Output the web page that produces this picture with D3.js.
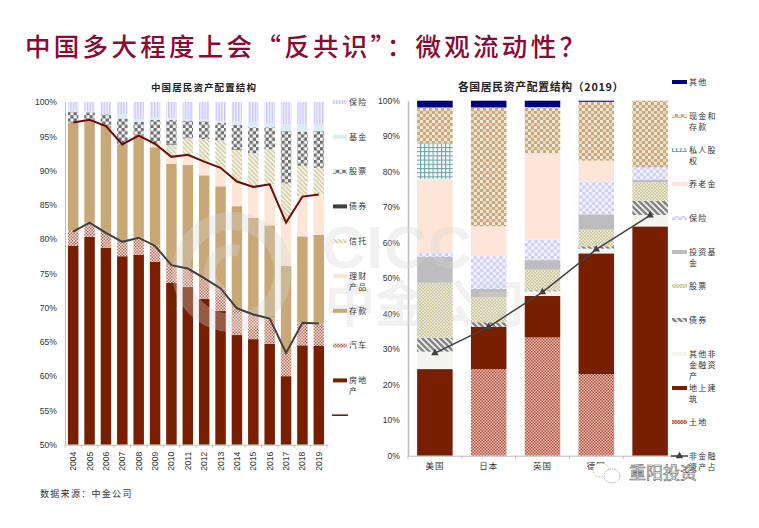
<!DOCTYPE html>
<html>
<head>
<meta charset="utf-8">
<script src="https://cdn.jsdelivr.net/npm/d3@7"></script>
<style>
	html, body { margin: 0; padding: 0; background: #fff; }
	svg { display: block; }
	text { font-family: "Noto Sans CJK SC", "Liberation Sans", sans-serif; }
	.tick text { font-family: "Liberation Sans", Arial, sans-serif; fill: #333; }
	.cat .tick text { font-family: "Noto Sans CJK SC", sans-serif; }
</style>
</head>
<body>
<svg id="chart" width="759" height="528"></svg>
<script>
	/* left chart - share of household assets, China */
	var years = ["2004","2005","2006","2007","2008","2009","2010","2011","2012","2013","2014","2015","2016","2017","2018","2019"];
	var cnRealEstate = [79.0,80.3,78.7,77.5,77.7,76.7,73.6,73.0,71.3,69.5,66.0,65.4,64.7,60.0,64.5,64.4];
	var cnCar = [2.2,2.1,2.2,2.1,2.5,2.4,2.6,2.8,2.9,3.3,3.9,3.6,3.7,3.4,3.3,3.3];
	var cnDeposit = [15.8,15.0,15.6,14.2,14.9,14.3,14.8,15.0,15.1,14.9,14.9,14.1,13.6,12.7,12.6,12.9];
	var cnWealth = [0,0,0,0,0,0.2,1.0,1.5,2.0,2.7,3.6,4.5,6.0,6.3,5.8,5.9];
	var cnTrust = [0,0,0,0,0,0.3,1.8,2.4,3.3,4.0,4.6,4.9,5.1,5.7,4.5,3.9];
	var cnBond = [0,0,0,0,0,0,0.1,0,0,0,0.1,0,0,0,0,0];
	var cnStock = [1.6,1.1,1.7,3.8,2.0,3.5,3.5,2.6,2.6,2.6,3.6,3.8,3.2,7.7,5.0,5.4];
	var cnFund = [0.1,0.1,0,0.6,0.4,0.3,0.2,0.2,0.2,0.2,0.5,0.7,0.6,0.9,1.0,0.9];
	var cnInsurance = [1.3,1.4,1.8,1.8,2.5,2.3,2.4,2.5,2.6,2.8,2.8,3.0,3.1,3.3,3.3,3.3];
	var cnLineGrey = [81.1,82.4,80.9,79.6,80.2,79.0,76.2,75.7,74.3,72.8,69.9,69.0,68.4,63.4,67.8,67.7];
	var cnLineRed = [97.0,97.4,96.5,93.8,95.1,93.9,92.0,92.3,91.3,90.4,88.4,87.6,88.0,82.4,86.2,86.5];
	var cnTicks = [50,55,60,65,70,75,80,85,90,95,100];

	/* right chart - share of household assets by country, 2019 */
	var countries = ["美国","日本","英国","德国","法国"];
	var wLand = [0,24.4,33.3,23.0,0];
	var wBuilding = [24.4,11.9,11.7,34.0,64.6];
	var wOtherNonFin = [4.9,0,1.3,1.3,3.2];
	var wBond = [3.9,1.3,0.3,0.7,4.0];
	var wStock = [15.5,7.0,5.8,4.7,5.2];
	var wFund = [7.3,2.4,2.7,4.3,0.8];
	var wInsurance = [1.3,9.2,5.7,9.2,3.4];
	var wPension = [20.7,8.4,24.4,5.9,0];
	var wPrivateEquity = [10.0,0,0,0,0];
	var wCash = [10.1,33.5,13.0,16.6,18.8];
	var wOther = [1.9,1.9,1.8,0.3,0];
	var wNonFinShare = [28.9,36.3,46.1,58.1,67.7];
	var wTicks = [0,10,20,30,40,50,60,70,80,90,100];

	/* bottom-up stacking order, the legends read top-down */
	var cnSeries = [
		{name: "房地产", values: cnRealEstate, fill: "#771f00"},
		{name: "汽车", values: cnCar, fill: "url(#pCar)"},
		{name: "存款", values: cnDeposit, fill: "#c9a877"},
		{name: "理财产品", values: cnWealth, fill: "#fde6d8"},
		{name: "信托", values: cnTrust, fill: "url(#pTrust)"},
		{name: "债券", values: cnBond, fill: "#404040"},
		{name: "股票", values: cnStock, fill: "url(#pChecker)"},
		{name: "基金", values: cnFund, fill: "#d9edf3"},
		{name: "保险", values: cnInsurance, fill: "url(#pStripes)"}
	];
	var wSeries = [
		{name: "土地", values: wLand, fill: "url(#pLand)"},
		{name: "地上建筑", values: wBuilding, fill: "#771f00"},
		{name: "其他非金融资产", values: wOtherNonFin, fill: "#f4f5ee"},
		{name: "债券", values: wBond, fill: "url(#pBond)"},
		{name: "股票", values: wStock, fill: "url(#pDots)"},
		{name: "投资基金", values: wFund, fill: "#bdbdbd"},
		{name: "保险", values: wInsurance, fill: "url(#pLavender)"},
		{name: "养老金", values: wPension, fill: "#fde6d8"},
		{name: "私人股权", values: wPrivateEquity, fill: "url(#pGrid)"},
		{name: "现金和存款", values: wCash, fill: "url(#pCash)"},
		{name: "其他", values: wOther, fill: "#000080"}
	];

	var svg = d3.select("#chart");

	/*
	 * Fill patterns. Each one is a background rect plus a list of small rects
	 * or a diagonal line.
	 */
	var defs = svg.append("defs");

	function addPattern(id, size, bg, rects, diagonal) {
		var p = defs.append("pattern")
			.attr("id", id)
			.attr("patternUnits", "userSpaceOnUse")
			.attr("width", size)
			.attr("height", size);
		p.append("rect").attr("width", size).attr("height", size).attr("fill", bg);
		(rects || []).forEach(function(r) {
			p.append("rect").attr("x", r[0]).attr("y", r[1]).attr("width", r[2]).attr("height", r[3]).attr("fill", r[4]);
		});
		if (diagonal) {
			p.append("path")
				.attr("d", "M0,0L" + size + "," + size + "M" + (-size) + ",0L" + size + "," + (2 * size) + "M0," + (-size) + "L" + (2 * size) + "," + size)
				.attr("stroke", diagonal[0])
				.attr("stroke-width", diagonal[1]);
		}
	}

	addPattern("pStripes", 2.8, "#f4f4ff", [[0, 0, 1.4, 2.8, "#c6c6fb"]]);
	addPattern("pChecker", 6.4, "#f2f2f2", [[0, 0, 3.2, 3.2, "#6e6e6e"], [3.2, 3.2, 3.2, 3.2, "#6e6e6e"]]);
	addPattern("pTrust", 4.5, "#fbfaf4", [], ["#d3cba3", 1.7]);
	addPattern("pCar", 3, "#f6e4dc", [[0, 0, 1.5, 1.5, "#bf6b5a"], [1.5, 1.5, 1.5, 1.5, "#bf6b5a"]]);
	addPattern("pLand", 3, "#e8c6ba", [[0, 0, 1.5, 1.5, "#b84a3a"], [1.5, 1.5, 1.5, 1.5, "#b84a3a"]]);
	addPattern("pDots", 3.2, "#efedda", [[0, 0, 1.6, 1.6, "#c8c497"], [1.6, 1.6, 1.6, 1.6, "#c8c497"]]);
	addPattern("pBond", 6, "#f2f2f2", [], ["#858585", 2.6]);
	addPattern("pLavender", 6.4, "#f5f5ff", [[0, 0, 3.2, 3.2, "#cdcdfa"], [3.2, 3.2, 3.2, 3.2, "#cdcdfa"]]);
	addPattern("pGrid", 4.2, "#f6fbfb", [[0, 0, 1, 4.2, "#6a9fa6"], [0, 0, 4.2, 1, "#6a9fa6"]]);
	addPattern("pCash", 6, "#cba97a", [[0, 0, 3, 3, "#f2e8d6"], [3, 3, 3, 3, "#ead9bf"]]);

	/* titles */
	svg.append("text")
		.attr("x", 25).attr("y", 56)
		.attr("fill", "#8a0a32")
		.attr("font-size", 25.5)
		.attr("letter-spacing", 3.3)
		.style("font-weight", 500)
		.text("中国多大程度上会“反共识”：微观流动性？");

	svg.append("text")
		.attr("x", 204).attr("y", 90.5)
		.attr("text-anchor", "middle")
		.attr("font-size", 9.5).attr("letter-spacing", 1.1)
		.attr("fill", "#222").style("font-weight", 700)
		.text("中国居民资产配置结构");

	svg.append("text")
		.attr("x", 541).attr("y", 91)
		.attr("text-anchor", "middle")
		.attr("font-size", 10.8).attr("letter-spacing", 0.7)
		.attr("fill", "#222").style("font-weight", 700)
		.text("各国居民资产配置结构（2019）");

	svg.append("text")
		.attr("x", 40).attr("y", 496.5)
		.attr("font-size", 9).attr("letter-spacing", 1.3)
		.attr("fill", "#333")
		.text("数据来源：中金公司");

	/* draw one stacked chart, returns its scales */
	function drawStack(cfg) {
		var x = d3.scaleBand().domain(cfg.cats).range(cfg.xr).paddingInner(cfg.pad).paddingOuter(cfg.pad / 2);
		var y = d3.scaleLinear().domain(cfg.yd).range(cfg.yr).clamp(true);

		var rows = cfg.cats.map(function(c, i) {
			var row = {cat: c};
			cfg.series.forEach(function(s) { row[s.name] = s.values[i]; });
			return row;
		});
		var stacked = d3.stack().keys(cfg.series.map(function(s) { return s.name; }))(rows);

		var g = svg.append("g");
		g.selectAll("g")
			.data(stacked)
			.join("g")
			.attr("fill", function(d, i) { return cfg.series[i].fill; })
			.selectAll("rect")
			.data(function(d) { return d; })
			.join("rect")
			.attr("x", function(d) { return x(d.data.cat); })
			.attr("width", x.bandwidth())
			.attr("y", function(d) { return y(d[1]); })
			.attr("height", function(d) { return y(d[0]) - y(d[1]); });

		var yAxis = d3.axisLeft(y).tickValues(cfg.ticks).tickSize(0).tickPadding(cfg.tickPad)
			.tickFormat(function(d) { return d + "%"; });
		var ya = svg.append("g").attr("transform", "translate(" + cfg.xr[0] + ",0)").call(yAxis);
		ya.select(".domain").attr("stroke", "#bdbdbd").attr("stroke-width", cfg.axisW);
		ya.selectAll("text").attr("font-size", 8.6);

		var xAxis = d3.axisBottom(x).tickSize(0);
		var xa = svg.append("g").attr("class", cfg.catClass || "")
			.attr("transform", "translate(0," + cfg.yr[0] + ")").call(xAxis);
		xa.select(".domain").attr("stroke", "#bdbdbd").attr("stroke-width", 1);

		/* tick marks sit between the categories */
		svg.append("g").selectAll("line")
			.data(d3.range(cfg.cats.length + 1))
			.join("line")
			.attr("x1", function(i) { return cfg.xr[0] + i * x.step(); })
			.attr("x2", function(i) { return cfg.xr[0] + i * x.step(); })
			.attr("y1", cfg.yr[0])
			.attr("y2", cfg.yr[0] + 3)
			.attr("stroke", "#bdbdbd");

		return {x: x, y: y, xa: xa};
	}

	var left = drawStack({
		cats: years, series: cnSeries, xr: [65, 327], yr: [444.7, 102], yd: [50, 100],
		pad: 0.36, ticks: cnTicks, tickPad: 8, axisW: 1
	});
	left.xa.selectAll("text")
		.attr("font-size", 8.6)
		.attr("transform", "rotate(-90)")
		.attr("text-anchor", "end")
		.attr("x", -7).attr("y", 0).attr("dy", "0.35em");

	var right = drawStack({
		cats: countries, series: wSeries, xr: [408, 677], yr: [455.7, 100.7], yd: [0, 100],
		pad: 0.34, ticks: wTicks, tickPad: 8, axisW: 1.5, catClass: "cat"
	});
	right.xa.selectAll("text").attr("font-size", 8.5).attr("letter-spacing", 1).attr("y", 7).attr("fill", "#333");

	/* CICC watermark goes over the bars but under the lines */
	var wm = svg.append("g").attr("fill", "#d6d6d6").attr("opacity", 0.32).style("pointer-events", "none");
	wm.append("path")
		.attr("transform", "translate(232,272)")
		.attr("d", d3.arc()({innerRadius: 42, outerRadius: 60, startAngle: 0, endAngle: 2 * Math.PI}));
	wm.append("path")
		.attr("transform", "translate(232,272)")
		.attr("d", d3.arc()({innerRadius: 16, outerRadius: 28, startAngle: 3.6, endAngle: 6.6}));
	wm.append("text")
		.attr("x", 322).attr("y", 268)
		.attr("font-size", 60).attr("letter-spacing", 1)
		.style("font-family", '"Liberation Sans", sans-serif')
		.style("font-weight", 700)
		.text("CICC");
	wm.append("text")
		.attr("x", 325).attr("y", 322)
		.attr("font-size", 50)
		.style("font-weight", 700)
		.text("中金公司");

	/* lines */
	function drawLine(scales, cats, vals, color, width) {
		var line = d3.line()
			.x(function(d, i) { return scales.x(cats[i]) + scales.x.bandwidth() / 2; })
			.y(function(d) { return scales.y(d); });
		svg.append("path")
			.datum(vals)
			.attr("d", line)
			.attr("fill", "none")
			.attr("stroke", color)
			.attr("stroke-width", width);
	}

	drawLine(left, years, cnLineGrey, "#404040", 2);
	drawLine(left, years, cnLineRed, "#6e0a0a", 2);
	drawLine(right, countries, wNonFinShare, "#404040", 1.5);

	svg.append("g").selectAll("path")
		.data(wNonFinShare)
		.join("path")
		.attr("d", d3.symbol().type(d3.symbolTriangle).size(24))
		.attr("fill", "#404040")
		.attr("transform", function(d, i) {
			return "translate(" + (right.x(countries[i]) + right.x.bandwidth() / 2) + "," + right.y(d) + ")";
		});

	/* legends, keys wrap after a fixed number of characters */
	function drawLegend(items, cfg) {
		var g = svg.append("g");
		items.forEach(function(it, i) {
			var yy = cfg.y0 + i * cfg.step;
			if (it.marker === "line" || it.marker === "triangle") {
				g.append("line")
					.attr("x1", cfg.x - 1).attr("x2", cfg.x + cfg.w + 1)
					.attr("y1", yy).attr("y2", yy)
					.attr("stroke", it.fill).attr("stroke-width", 1.5);
				if (it.marker === "triangle") {
					g.append("path")
						.attr("d", d3.symbol().type(d3.symbolTriangle).size(24))
						.attr("transform", "translate(" + (cfg.x + cfg.w / 2) + "," + yy + ")")
						.attr("fill", it.fill);
				}
			} else {
				g.append("rect")
					.attr("x", cfg.x).attr("y", yy - 2)
					.attr("width", cfg.w).attr("height", 4)
					.attr("fill", it.fill);
			}
			var lines = it.name.match(new RegExp(".{1," + cfg.wrap + "}", "g")) || [];
			lines.forEach(function(t, j) {
				g.append("text")
					.attr("x", cfg.x + cfg.w + 2)
					.attr("y", yy + j * 11.2)
					.attr("dy", "0.36em")
					.attr("font-size", 8)
					.attr("letter-spacing", 1.2)
					.attr("fill", "#333")
					.text(t);
			});
		});
	}

	drawLegend(cnSeries.slice().reverse().concat([{name: "", fill: "#6e0a0a", marker: "line"}]),
		{x: 333, w: 14, y0: 102, step: 34.8, wrap: 2});
	drawLegend(wSeries.slice().reverse().concat([{name: "非金融资产占", fill: "#404040", marker: "triangle"}]),
		{x: 672, w: 15, y0: 82, step: 34, wrap: 3});

	/* WeChat account stamp over the bottom right corner */
	var stamp = svg.append("g");
	stamp.append("rect").attr("x", 623).attr("y", 460).attr("width", 64).attr("height", 24).attr("fill", "#fff");
	stamp.append("ellipse").attr("cx", 601).attr("cy", 470).attr("rx", 8).attr("ry", 7)
		.attr("fill", "#fff").attr("stroke", "#999").attr("stroke-width", 0.6).attr("stroke-dasharray", "1.5 1");
	stamp.append("ellipse").attr("cx", 612).attr("cy", 476).attr("rx", 8).attr("ry", 7)
		.attr("fill", "#fff").attr("stroke", "#777").attr("stroke-width", 0.6).attr("stroke-dasharray", "1.5 1");
	stamp.append("text")
		.attr("x", 629).attr("y", 479)
		.attr("font-size", 17)
		.attr("fill", "#fff").attr("stroke", "#555").attr("stroke-width", 0.55)
		.text("重阳投资");
</script>
</body>
</html>
